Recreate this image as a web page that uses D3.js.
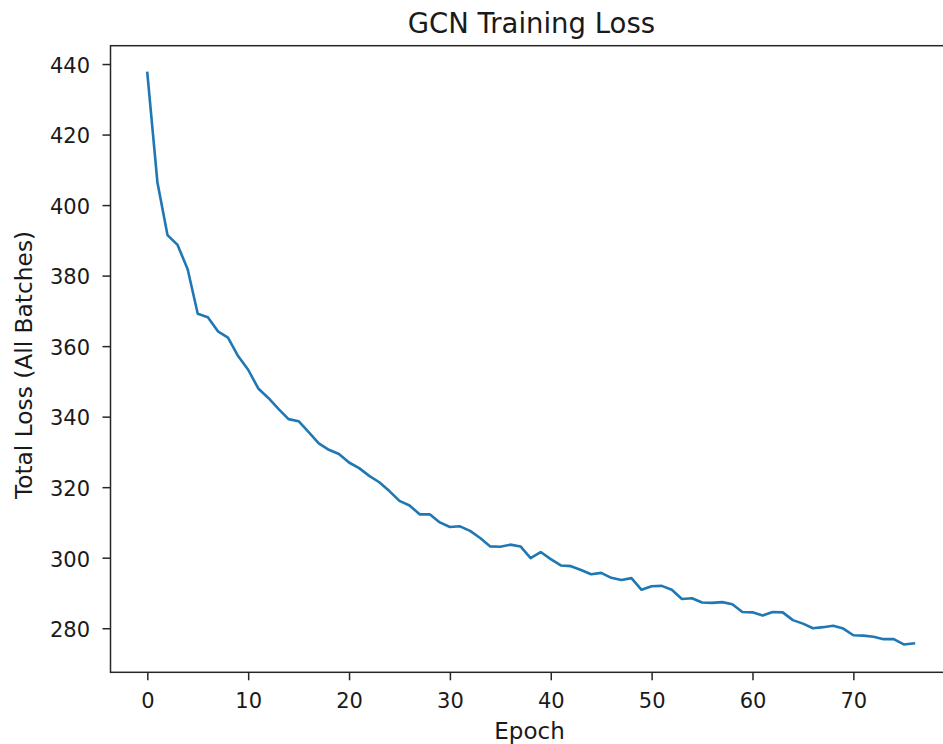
<!DOCTYPE html>
<html>
<head>
<meta charset="utf-8">
<script src="https://cdn.jsdelivr.net/npm/d3@7"></script>
<style>
  html, body { margin: 0; padding: 0; background: #fff; }
  svg { display: block; }
  text { font-family: "DejaVu Sans", sans-serif; fill: #1a1a1a; }
</style>
</head>
<body>
<svg id="chart" width="943" height="744"></svg>
<script>
// ---- data ----
const epochs = d3.range(0, 77);
const totalLoss = [
  437.5, 406.5, 391.5, 388.7, 381.8, 369.2, 368.2, 364.2, 362.4, 357.2,
  353.3, 348.0, 345.3, 342.2, 339.3, 338.7, 335.6, 332.4, 330.6, 329.4,
  327.0, 325.4, 323.2, 321.4, 318.9, 316.1, 314.8, 312.3, 312.3, 310.0,
  308.7, 308.9, 307.6, 305.6, 303.2, 303.1, 303.7, 303.2, 299.9, 301.6,
  299.6, 297.8, 297.6, 296.5, 295.3, 295.7, 294.3, 293.7, 294.2, 290.9,
  291.9, 292.0, 290.9, 288.3, 288.5, 287.3, 287.2, 287.4, 286.8, 284.6,
  284.5, 283.6, 284.6, 284.5, 282.3, 281.3, 280.0, 280.3, 280.7, 279.9,
  278.0, 277.9, 277.6, 276.9, 276.9, 275.4, 275.7
];
const xTicks = [0, 10, 20, 30, 40, 50, 60, 70];
const yTicks = [280, 300, 320, 340, 360, 380, 400, 420, 440];
const titleText = "GCN Training Loss";
const xLabelText = "Epoch";
const yLabelText = "Total Loss (All Batches)";

// ---- layout ----
const plot = { left: 110.5, right: 952.2, top: 45.7, bottom: 672.3 };
const svg = d3.select("#chart");

const x = d3.scaleLinear().domain([-3.65, 79.8]).range([plot.left, plot.right]);
const y = d3.scaleLinear().domain([267.5, 445.2]).range([plot.bottom, plot.top]);

// line
const line = d3.line()
  .x((d, i) => x(epochs[i]))
  .y(d => y(d));

svg.append("path")
  .datum(totalLoss)
  .attr("d", line)
  .attr("fill", "none")
  .attr("stroke", "#1f77b4")
  .attr("stroke-width", 2.6)
  .attr("stroke-linejoin", "round")
  .attr("stroke-linecap", "square");

// frame
svg.append("rect")
  .attr("x", plot.left).attr("y", plot.top)
  .attr("width", plot.right - plot.left).attr("height", plot.bottom - plot.top)
  .attr("fill", "none").attr("stroke", "#262626").attr("stroke-width", 1.5);

// x axis
const xAxis = d3.axisBottom(x).tickValues(xTicks).tickSize(8).tickPadding(12).tickFormat(d3.format("d"));
const gx = svg.append("g").attr("transform", `translate(0,${plot.bottom})`).call(xAxis);
gx.select(".domain").remove();
gx.selectAll(".tick line").attr("stroke", "#262626").attr("stroke-width", 1.5);
gx.selectAll(".tick text")
  .attr("font-family", "DejaVu Sans, sans-serif")
  .attr("font-size", 21).attr("fill", "#1a1a1a")
  .attr("dy", null).attr("y", 36);

// y axis
const yAxis = d3.axisLeft(y).tickValues(yTicks).tickSize(8).tickPadding(11).tickFormat(d3.format("d"));
const gy = svg.append("g").attr("transform", `translate(${plot.left},0)`).call(yAxis);
gy.select(".domain").remove();
gy.selectAll(".tick line").attr("stroke", "#262626").attr("stroke-width", 1.5);
gy.selectAll(".tick text")
  .attr("font-family", "DejaVu Sans, sans-serif")
  .attr("font-size", 21).attr("fill", "#1a1a1a")
  .attr("dy", null).attr("y", 8.3).attr("x", -20.5);

// title
svg.append("text")
  .attr("x", (plot.left + plot.right) / 2).attr("y", 33)
  .attr("text-anchor", "middle").attr("font-size", 27.5)
  .text(titleText);

// x label
svg.append("text")
  .attr("x", 529.5).attr("y", 738.5)
  .attr("text-anchor", "middle").attr("font-size", 23)
  .text(xLabelText);

// y label
svg.append("text")
  .attr("transform", `translate(31.5,${365}) rotate(-90)`)
  .attr("text-anchor", "middle").attr("font-size", 23.3)
  .text(yLabelText);
</script>
</body>
</html>
